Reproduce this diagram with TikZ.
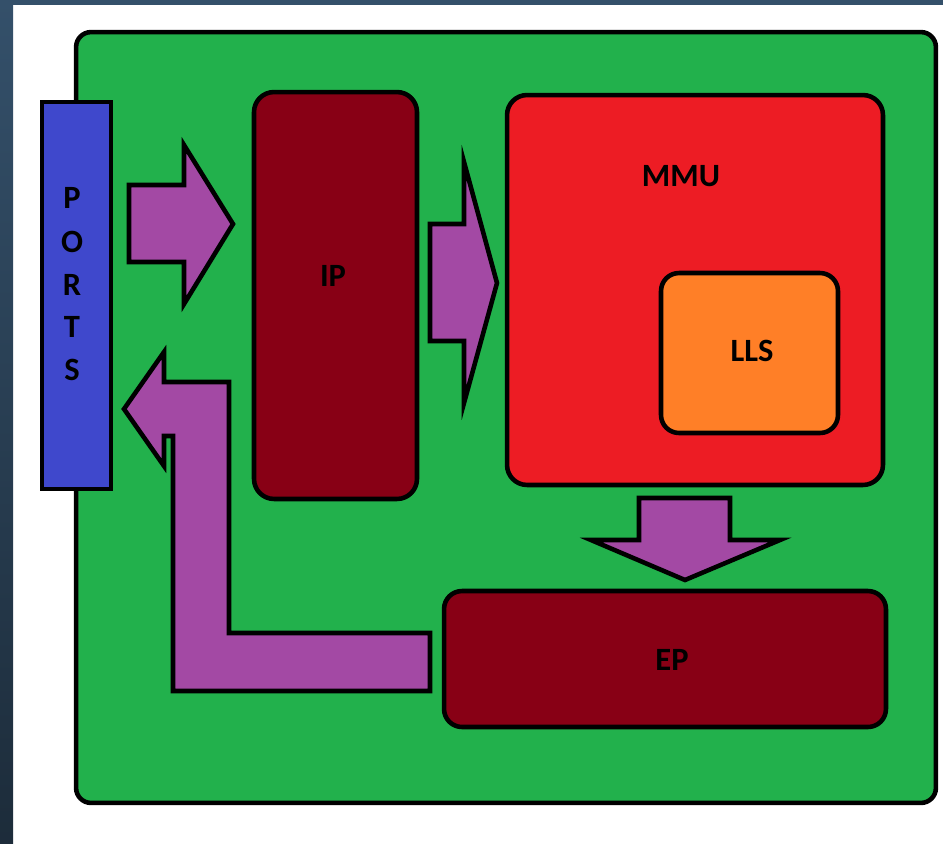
\documentclass[tikz,border=0pt]{standalone}
\usepackage{fontspec}
\setmainfont{Carlito}

\definecolor{verde}{HTML}{22B14C}
\definecolor{azul}{HTML}{3F48CC}
\definecolor{vinho}{HTML}{880015}
\definecolor{vermelho}{HTML}{ED1C24}
\definecolor{laranja}{HTML}{FF7F27}
\definecolor{roxo}{HTML}{A349A4}
\definecolor{fundo}{HTML}{34506A}

\begin{document}
\begin{tikzpicture}[
    x=0.02cm, y=-0.02cm,
    % Estilo comum das caixas (blocos)
    caixa/.style={draw=black, line width=2.6pt, inner sep=0pt},
    % Estilo das setas largas (contorno preto, miolo roxo)
    seta/.style={draw=black, line width=2.6pt, fill=roxo},
    % Texto dos blocos
    rotulo/.style={font=\fontsize{18.5}{20}\selectfont\bfseries, inner sep=0pt}
]

    % ==========================================
    % 0. FUNDO (moldura escura em cima e a esquerda)
    % ==========================================
    \useasboundingbox (0,0) rectangle (943,843);
    \fill[white] (0,0) rectangle (943,843);
    \fill[fundo] (0,0) rectangle (943,5);
    \shade[top color=fundo, bottom color=fundo!55!black] (0,0) rectangle (13,843);

    % ==========================================
    % 1. BLOCOS
    % ==========================================
    \node[caixa, fill=verde, rounded corners=0.3cm,
          minimum width=17.2cm, minimum height=15.42cm] (placa) at (506,417.5) {};
    \node[caixa, fill=azul, minimum width=1.38cm, minimum height=7.74cm] (ports) at (76.5,295.5) {};
    \node[caixa, fill=vinho, rounded corners=0.4cm,
          minimum width=3.26cm, minimum height=8.14cm] (ip) at (335.5,295.5) {};
    \node[caixa, fill=vermelho, rounded corners=0.4cm,
          minimum width=7.52cm, minimum height=7.8cm] (mmu) at (695,290) {};
    \node[caixa, fill=laranja, rounded corners=0.36cm,
          minimum width=3.54cm, minimum height=3.2cm] (lls) at (749.5,353) {};
    \node[caixa, fill=vinho, rounded corners=0.36cm,
          minimum width=8.84cm, minimum height=2.72cm] (ep) at (665,659) {};

    % Rotulos
    \node[rotulo] (ipl) at (333,276) {IP};
    \node[rotulo] (mmul) at (681,176) {MMU};
    \node[rotulo] (llsl) at (752,351) {LLS};
    \node[rotulo] (epl) at (672,660) {EP};
    % PORTS escrito na vertical, uma letra por linha
    \foreach \letra/\yy in {P/198, O/242, R/285, T/327, S/370}
        \node[rotulo] (p\letra) at (72,\yy) {\letra};

    % ==========================================
    % 2. SETAS LARGAS (poligonos)
    % ==========================================
    % PORTS -> IP
    \draw[seta] (129,185) -- (184,185) -- (184,145) -- (233,224)
        -- (184,304) -- (184,262) -- (129,262) -- cycle;
    % IP -> MMU
    \draw[seta] (430,224) -- (464,224) -- (464,162) -- (497,283)
        -- (464,403) -- (464,341) -- (430,341) -- cycle;
    % MMU -> EP
    \draw[seta] (639,498) -- (730,498) -- (730,540) -- (780,540)
        -- (685,580) -- (591,540) -- (639,540) -- cycle;
    % EP -> PORTS (seta em L)
    \draw[seta] (124,409) -- (164,352) -- (164,382) -- (229,382)
        -- (229,633) -- (430,633) -- (430,691) -- (173,691)
        -- (173,436) -- (164,436) -- (164,466) -- cycle;

\end{tikzpicture}
\end{document}
